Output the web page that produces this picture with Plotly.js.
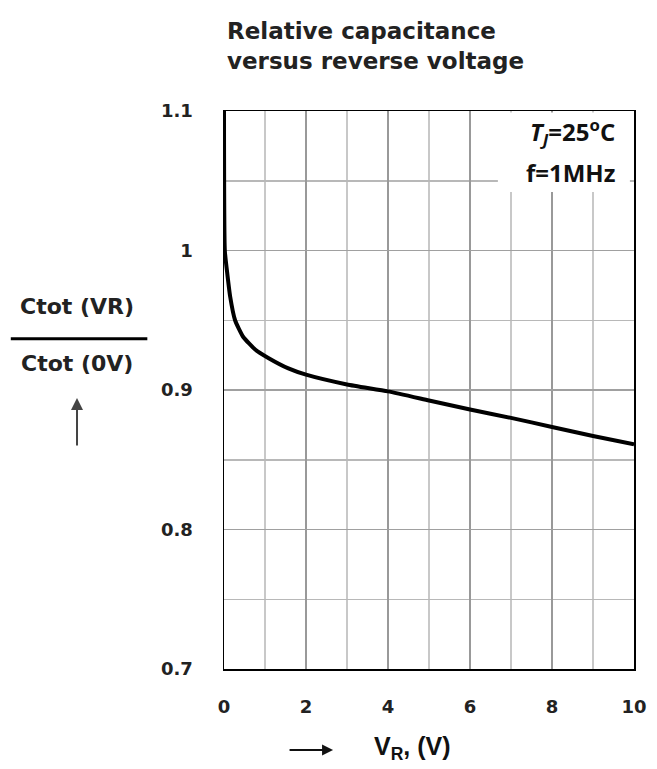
<!DOCTYPE html>
<html>
<head>
<meta charset="utf-8">
<script src="https://cdn.plot.ly/plotly-3.0.1.min.js"></script>
<style>html,body{margin:0;padding:0;background:#fff;}</style>
</head>
<body>
<div id="chart" style="width:657px;height:769px;"></div>
<script>
// Reverse voltage V_R (V)
const vr = [0, 0.02, 0.07, 0.15, 0.27, 0.47, 0.76, 1.08, 1.57, 2, 3, 4, 5, 6, 7, 8, 9, 10];
// Relative capacitance Ctot(VR)/Ctot(0V)
const relCap = [1.1, 1.0, 0.986, 0.967, 0.950, 0.938, 0.929, 0.923, 0.9155, 0.911, 0.904, 0.899, 0.8925, 0.886, 0.880, 0.8735, 0.867, 0.861];
const xTicks = [0, 2, 4, 6, 8, 10];
const yTicks = [0.7, 0.8, 0.9, 1, 1.1];
const yTickText = ['0.7', '0.8', '0.9', '1', '1.1'];

const tickFont = {family: 'DejaVu Sans', size: 18, color: '#222', weight: 'bold'};
const lblFont = {family: 'DejaVu Sans', size: 22, color: '#222'};

const trace = {
  x: vr, y: relCap, type: 'scatter', mode: 'lines',
  line: {color: '#000', width: 4, shape: 'spline', smoothing: 0.5},
  hoverinfo: 'skip'
};

const layout = {
  width: 657, height: 769,
  margin: {l: 224, r: 23, t: 111, b: 100},
  paper_bgcolor: '#fff', plot_bgcolor: '#fff',
  showlegend: false,
  xaxis: {
    range: [0, 10], tickvals: xTicks, ticks: '', ticklabelstandoff: 21,
    tickfont: tickFont, showgrid: true, gridcolor: '#999', gridwidth: 1.5,
    minor: {dtick: 1, showgrid: true, gridcolor: '#c8c8c8', gridwidth: 1.5},
    showline: true, linecolor: '#000', linewidth: 1.5, mirror: true, zeroline: false
  },
  yaxis: {
    range: [0.7, 1.1], tickvals: yTicks, ticktext: yTickText, ticks: '', ticklabelstandoff: 26,
    tickfont: tickFont, showgrid: true, gridcolor: '#a0a0a0', gridwidth: 1.5,
    minor: {dtick: 0.05, tick0: 0.7, showgrid: true, gridcolor: '#b8b8b8', gridwidth: 1.5},
    showline: true, linecolor: '#000', linewidth: 1.5, mirror: true, zeroline: false
  },
  shapes: [
    {type: 'rect', xref: 'x', yref: 'y', x0: 6.68, x1: 9.9, y0: 1.042, y1: 1.099,
     fillcolor: '#fff', line: {width: 0}, layer: 'between'},
    {type: 'line', xref: 'paper', yref: 'paper', x0: -0.52, x1: -0.187, y0: 0.592, y1: 0.592,
     line: {color: '#000', width: 3}}
  ],
  annotations: [
    {xref: 'paper', yref: 'paper', x: 0.003, y: 1.1165, xanchor: 'left', yanchor: 'middle',
     align: 'left', showarrow: false,
     text: '<b>Relative capacitance<br>versus reverse voltage</b>',
     font: {family: 'DejaVu Sans', size: 23, color: '#222'}},
    {xref: 'paper', yref: 'paper', x: 0.9585, y: 0.962, xanchor: 'right', yanchor: 'middle',
     showarrow: false, text: '<b><i>T<sub>J</sub></i>=25<sup>o</sup>C</b>',
     font: {family: 'Open Sans, sans-serif', size: 24, color: '#111'}},
    {xref: 'paper', yref: 'paper', x: 0.9585, y: 0.889, xanchor: 'right', yanchor: 'middle',
     showarrow: false, text: '<b>f=1MHz</b>',
     font: {family: 'Open Sans, sans-serif', size: 24, color: '#111'}},
    {xref: 'paper', yref: 'paper', x: -0.3585, y: 0.65, xanchor: 'center', yanchor: 'middle',
     showarrow: false, text: '<b>Ctot (VR)</b>', font: lblFont},
    {xref: 'paper', yref: 'paper', x: -0.3585, y: 0.548, xanchor: 'center', yanchor: 'middle',
     showarrow: false, text: '<b>Ctot (0V)</b>', font: lblFont},
    {xref: 'paper', yref: 'paper', x: -0.3585, y: 0.4857, text: '', showarrow: true,
     ax: 0, ay: 49, arrowhead: 2, arrowsize: 1.2, arrowwidth: 2, arrowcolor: '#444'},
    {xref: 'paper', yref: 'paper', x: 0.266, y: -0.145, text: '', showarrow: true,
     ax: -45, ay: 0, arrowhead: 2, arrowsize: 1.1, arrowwidth: 2, arrowcolor: '#111'},
    {xref: 'paper', yref: 'paper', x: 0.459, y: -0.1416, xanchor: 'center', yanchor: 'middle',
     showarrow: false, text: '<b>V<sub>R</sub>, (V)</b>',
     font: {family: 'Liberation Sans, Arial, sans-serif', size: 25, color: '#111'}}
  ]
};

Plotly.newPlot('chart', [trace], layout, {displayModeBar: false, staticPlot: true});
</script>
</body>
</html>
